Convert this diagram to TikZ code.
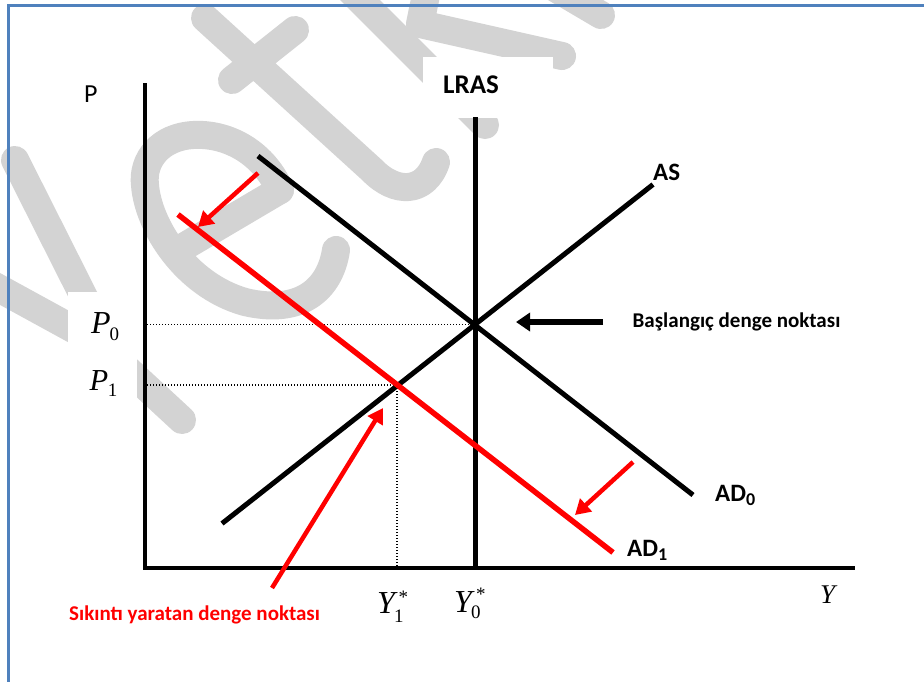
\documentclass[tikz,border=0pt]{standalone}
\usepackage{fontspec}
\newfontfamily\calfont{Carlito}
\newfontfamily\tmsfont{Liberation Serif}
\usetikzlibrary{arrows.meta}
\definecolor{wm}{RGB}{211,211,211}
\definecolor{frameblue}{RGB}{79,129,189}
\tikzset{
  wmstroke/.style={draw=wm, line width=28pt, line cap=round, line join=round},
  curveline/.style={draw=black, line width=5pt},
  axisline/.style={draw=black, line width=4.5pt},
  redcurve/.style={draw=red, line width=5.5pt},
  redarrow/.style={draw=red, line width=4.5pt, -{Triangle[length=15pt,width=17pt]}},
  blackarrow/.style={draw=black, line width=5.5pt, -{Triangle[length=14pt,width=18pt]}},
  guide/.style={draw=black, line width=1.2pt, dash pattern=on 1.2pt off 1.8pt},
  lab/.style={inner sep=0pt, anchor=base west},
  boldlab/.style={lab, font=\calfont\bfseries\fontsize{25}{25}\selectfont},
}
\begin{document}
\begin{tikzpicture}[x=1pt,y=-1pt]
\useasboundingbox (0,0) rectangle (924,681);
\clip (0,0) rectangle (924,681);
\fill[white] (0,0) rectangle (924,681);

% ---- watermark (light grey strokes) ----
\draw[wmstroke] (15,160) -- (88,305);
\draw[wmstroke] (-20,278) -- (75,330);
\draw[wmstroke] (115,358) -- (182,420);
\draw[wmstroke] (175,252) -- (280,190);
\draw[wmstroke] (280,190) .. controls (262,150) and (225,133) .. (193,135)
  .. controls (160,137) and (142,160) .. (145,185)
  .. controls (148,225) and (185,285) .. (245,302)
  .. controls (300,315) and (330,290) .. (336,250);
\draw[wmstroke] (205,18) -- (372,170) .. controls (395,194) and (425,194) .. (436,162);
\draw[wmstroke] (232,80) -- (295,30);
\draw[wmstroke] (345,-15) -- (485,125);
\draw[wmstroke] (428,-15) -- (420,24) -- (562,56);
\draw[wmstroke] (545,-18) -- (601,15);
\fill[white] (423,57) rectangle (553,118);
\fill[white] (68,292) rectangle (137,425);

% ---- frame ----
\draw[frameblue, line width=3pt] (8.5,700) -- (8.5,5.5) -- (940,5.5);

% ---- coordinates ----
\coordinate (yTop) at (145,83);
\coordinate (origin) at (145,568);
\coordinate (xEnd) at (855,568);
\coordinate (lrasTop) at (475.5,117);
\coordinate (lrasBot) at (475.5,568);
\coordinate (asLow) at (222,523.5);
\coordinate (asHigh) at (653,184.5);
\coordinate (adzA) at (258,156);
\coordinate (adzB) at (693,495);
\coordinate (adoA) at (178,214.5);
\coordinate (adoB) at (613,552.5);
\coordinate (E0) at (475.5,324.5);
\coordinate (E1) at (397,385);
\coordinate (p0axis) at (147,324.5);
\coordinate (p1axis) at (147,385);
\coordinate (y1axis) at (397,566);
\coordinate (ra1s) at (258,173);
\coordinate (ra1e) at (198,227);
\coordinate (ra2s) at (633,462);
\coordinate (ra2e) at (575,515);
\coordinate (ra3s) at (272,588);
\coordinate (ra3e) at (383,408);
\coordinate (bas) at (603,322);
\coordinate (bae) at (516,322);

% ---- guides ----
\draw[guide] (p0axis) -- (E0);
\draw[guide] (p1axis) -- (E1);
\draw[guide] (E1) -- (y1axis);

% ---- axes and curves ----
\draw[axisline] (lrasTop) -- (lrasBot);
\draw[curveline] (asLow) -- (asHigh);
\draw[curveline] (adzA) -- (adzB);
\draw[redcurve] (adoA) -- (adoB);
\draw[axisline, line join=miter] (yTop) -- (origin) -- (xEnd);

% ---- arrows ----
\draw[redarrow] (ra1s) -- (ra1e);
\draw[redarrow] (ra2s) -- (ra2e);
\draw[redarrow] (ra3s) -- (ra3e);
\draw[blackarrow] (bas) -- (bae);

% ---- labels ----
\node[lab, font=\calfont\fontsize{26}{26}\selectfont] (plab) at (84,102) {P};
\node[boldlab, font=\calfont\bfseries\fontsize{27}{27}\selectfont] (lraslab) at (443,93.3) {LRAS};
\node[boldlab] (aslab) at (653,180) {AS};
\node[lab, font=\calfont\bfseries\fontsize{21}{21}\selectfont] (startlab) at (632.5,327) {Başlangıç denge noktası};
\node[lab, font=\calfont\bfseries\fontsize{21}{21}\selectfont, text=red] (badlab) at (69,620) {Sıkıntı yaratan denge noktası};
\node[boldlab] (ad0lab) at (715,501.5) {AD\raisebox{-3.5pt}{\fontsize{18}{18}\selectfont 0}};
\node[boldlab] (ad1lab) at (627,556.7) {AD\raisebox{-3.5pt}{\fontsize{18}{18}\selectfont 1}};
\node[lab, font=\tmsfont\fontsize{32}{32}\selectfont] (p0lab) at (91,333)
  {\itshape P\kern-1pt\raisebox{-7pt}{\upshape\fontsize{19}{19}\selectfont 0}};
\node[lab, font=\tmsfont\fontsize{30.5}{30.5}\selectfont] (p1lab) at (89.5,390)
  {\itshape P\kern-0.5pt\raisebox{-6.7pt}{\upshape\fontsize{19}{19}\selectfont 1}};
\node[lab, font=\tmsfont\fontsize{32}{32}\selectfont] (y1lab) at (377,613)
  {\itshape Y\kern-1pt\rlap{\raisebox{-9pt}{\upshape\fontsize{19}{19}\selectfont 1}}\kern4.5pt\raisebox{9.5pt}{\upshape\fontsize{19}{19}\selectfont *}};
\node[lab, font=\tmsfont\fontsize{32}{32}\selectfont] (y0lab) at (454,612)
  {\itshape Y\kern-1pt\rlap{\raisebox{-6pt}{\upshape\fontsize{19}{19}\selectfont 0}}\kern5pt\raisebox{12pt}{\upshape\fontsize{19}{19}\selectfont *}};
\node[lab, font=\tmsfont\itshape\fontsize{27}{27}\selectfont] (ylab) at (820,603) {Y};
\end{tikzpicture}
\end{document}
